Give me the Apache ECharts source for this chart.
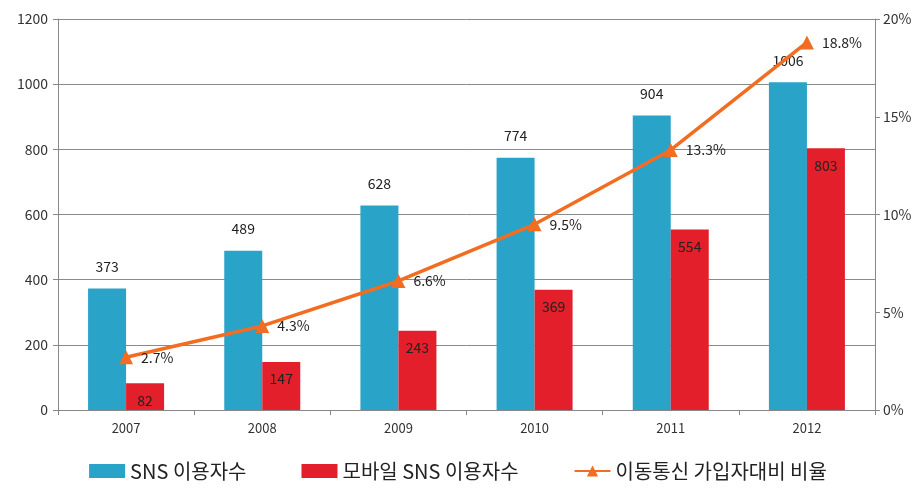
<!DOCTYPE html>
<html>
<head>
<meta charset="utf-8">
<script src="https://cdn.jsdelivr.net/npm/echarts@6/dist/echarts.min.js"></script>
<style>
  html, body { margin: 0; padding: 0; background: #fff; }
  #chart { width: 916px; height: 494px; }
</style>
</head>
<body>
<div id="chart"></div>
<script>
// 연도
var years = ['2007', '2008', '2009', '2010', '2011', '2012'];
// SNS 이용자수
var snsUsers = [373, 489, 628, 774, 904, 1006];
// 모바일 SNS 이용자수
var mobileSnsUsers = [82, 147, 243, 369, 554, 803];
// 이동통신 가입자대비 비율 (%)
var mobileRatio = [2.7, 4.3, 6.6, 9.5, 13.3, 18.8];
var seriesNames = ['SNS 이용자수', '모바일 SNS 이용자수', '이동통신 가입자대비 비율'];

var font = '"Noto Sans CJK KR", "Noto Sans", sans-serif';
var myChart = echarts.init(document.getElementById('chart'));
var option = {
    backgroundColor: '#fff',
    animation: false,
    textStyle: { fontFamily: font },
    grid: {
        left: 58,
        right: 41,
        top: 19,
        bottom: 84
    },
    legend: {
        bottom: 8,
        left: 'center',
        itemGap: 55,
        itemWidth: 36,
        itemHeight: 14,
        itemStyle: { borderWidth: 0 },
        textStyle: { fontSize: 20, color: '#222', fontFamily: font },
        data: [
            { name: seriesNames[0], icon: 'rect' },
            { name: seriesNames[1], icon: 'rect' },
            { name: seriesNames[2] }
        ]
    },
    xAxis: {
        type: 'category',
        data: years,
        axisLine: { lineStyle: { color: '#888', width: 1 } },
        axisTick: { show: true, length: 5, lineStyle: { color: '#888' } },
        axisLabel: { color: '#333', fontSize: 13, margin: 12 }
    },
    yAxis: [
        {
            type: 'value',
            min: 0,
            max: 1200,
            interval: 200,
            axisLine: { show: true, lineStyle: { color: '#888' } },
            axisTick: { show: true, length: 5, lineStyle: { color: '#888' } },
            axisLabel: {
                color: '#333',
                fontSize: 14,
                margin: 10,
                formatter: function (v) { return String(v); }
            },
            splitLine: { lineStyle: { color: '#8a8a8a', width: 1 } }
        },
        {
            type: 'value',
            min: 0,
            max: 20,
            interval: 5,
            position: 'right',
            axisLine: { show: true, lineStyle: { color: '#888' } },
            axisTick: { show: true, length: 5, lineStyle: { color: '#888' } },
            axisLabel: { color: '#333', fontSize: 14, margin: 8, formatter: '{value}%' },
            splitLine: { show: false }
        }
    ],
    series: [
        {
            name: seriesNames[0],
            type: 'bar',
            data: snsUsers,
            barWidth: 38,
            barGap: '0%',
            itemStyle: { color: '#29a3c7' },
            label: {
                show: true,
                position: 'top',
                distance: 15,
                color: '#222',
                fontSize: 14
            }
        },
        {
            name: seriesNames[1],
            type: 'bar',
            data: mobileSnsUsers,
            barWidth: 38,
            barGap: '0%',
            itemStyle: { color: '#e21f2b' },
            label: {
                show: true,
                position: 'insideTop',
                distance: 10,
                color: '#222',
                fontSize: 14
            }
        },
        {
            name: seriesNames[2],
            type: 'line',
            yAxisIndex: 1,
            data: mobileRatio,
            symbol: 'triangle',
            symbolSize: 14,
            lineStyle: { color: '#f26d21', width: 3.5 },
            itemStyle: { color: '#f26d21' },
            label: {
                show: true,
                position: 'right',
                distance: 8,
                color: '#222',
                fontSize: 14,
                formatter: '{c}%'
            },
            z: 5
        }
    ]
};
myChart.setOption(option);
</script>
</body>
</html>
